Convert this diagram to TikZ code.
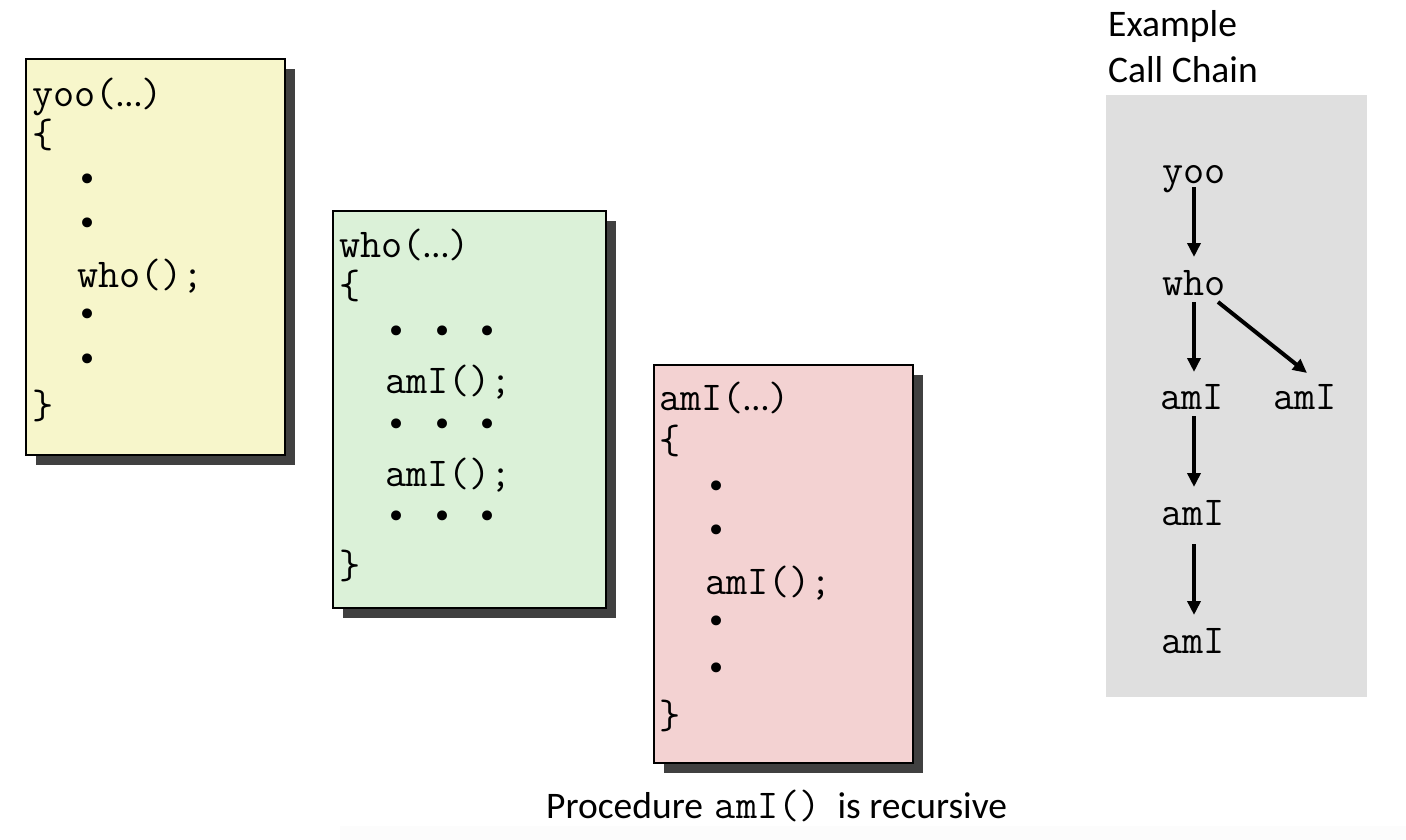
\documentclass[tikz,border=0pt]{standalone}
\usepackage{fontspec}
\setsansfont{Carlito}
\newfontfamily\dotfont{DejaVu Sans}
\usetikzlibrary{arrows.meta,shadows,calc}

\definecolor{yoofill}{RGB}{247,246,203}
\definecolor{whofill}{RGB}{219,241,216}
\definecolor{amifill}{RGB}{243,210,210}
\definecolor{chainfill}{RGB}{223,223,223}
\definecolor{shadowgray}{RGB}{64,64,64}
\definecolor{bandgray}{RGB}{252,252,252}

\newcommand\cfont{\ttfamily\fontsize{41}{45}\selectfont}
\newcommand\sfnt{\sffamily\fontsize{37.5}{46}\selectfont}
\newcommand\ellip{{\sffamily\fontsize{36}{40}\selectfont …}}

\tikzset{
  frame/.style={draw=black, line width=2pt, anchor=north west, inner sep=0pt,
    drop shadow={shadow xshift=10pt, shadow yshift=-10pt, fill=shadowgray, opacity=1}},
  codeln/.style={anchor=base west, inner sep=0pt, font=\cfont},
  bul/.style={anchor=center, inner sep=0pt, font=\dotfont\fontsize{34}{40}\selectfont},
  callnode/.style={anchor=base, inner sep=0pt, font=\cfont},
  label/.style={anchor=base west, inner sep=0pt, font=\sfnt},
  callarrow/.style={line width=4pt, -{Triangle[length=14pt,width=13pt]}},
}

\begin{document}
\begin{tikzpicture}[x=1pt, y=-1pt]
\useasboundingbox (0,0) rectangle (1406,840);
\fill[bandgray] (340,826) rectangle (1406,840);

% caller: yoo
\node[frame, fill=yoofill, minimum width=259pt, minimum height=396pt] (yoobox) at (25,58) {};
\node[codeln] (y1) at (32,107) {yoo(\ellip)};
\node[codeln] (y2) at (32,148) {\{};
\node[bul] (yb1) at (88,183) {•};
\node[bul] (yb2) at (88,227) {•};
\node[codeln] (y3) at (77,287) {who();};
\node[bul] (yb3) at (88,318) {•};
\node[bul] (yb4) at (88,363) {•};
\node[codeln] (y4) at (32,418) {\}};

% callee: who
\node[frame, fill=whofill, minimum width=273pt, minimum height=397pt] (whobox) at (332,210) {};
\node[codeln] (w1) at (339,257) {who(\ellip)};
\node[codeln] (w2) at (339,298) {\{};
\foreach \x [count=\i] in {397,443,488} {
  \node[bul] (wa\i) at (\x,335) {•};
  \node[bul] (wb\i) at (\x,428) {•};
  \node[bul] (wc\i) at (\x,520) {•};
}
\node[codeln] (w3) at (385,393) {amI();};
\node[codeln] (w4) at (385,486) {amI();};
\node[codeln] (w5) at (339,578) {\}};

% recursive procedure: amI
\node[frame, fill=amifill, minimum width=259pt, minimum height=398pt] (amibox) at (653,364) {};
\node[codeln] (a1) at (659,410) {amI(\ellip)};
\node[codeln] (a2) at (659,453) {\{};
\node[bul] (ab1) at (717,490) {•};
\node[bul] (ab2) at (717,534) {•};
\node[codeln] (a3) at (705,594) {amI();};
\node[bul] (ab3) at (717,625) {•};
\node[bul] (ab4) at (717,672) {•};
\node[codeln] (a4) at (659,728) {\}};

% example call chain
\node[label] (ex1) at (1108,37) {Example};
\node[label] (ex2) at (1108,83) {Call Chain};
\node[fill=chainfill, anchor=north west, inner sep=0pt, minimum width=261pt, minimum height=602pt] (chain) at (1106,95) {};
\node[callnode] (cyoo) at (1194,183) {yoo};
\node[callnode] (cwho) at (1194,295) {who};
\node[callnode] (cami1) at (1192,409) {amI};
\node[callnode] (cami2) at (1305,409) {amI};
\node[callnode] (cami3) at (1193,525) {amI};
\node[callnode] (cami4) at (1193,653) {amI};
\draw[callarrow] ($(cyoo.base)+(0,4)$) -- ($(cwho.base)+(0,-38)$);
\draw[callarrow] ($(cwho.base)+(0,7)$) -- ($(cami1.base)+(2,-37)$);
\draw[callarrow] ($(cwho.base)+(24,7)$) -- ($(cami2.base)+(2,-36)$);
\draw[callarrow] ($(cami1.base)+(2,7)$) -- ($(cami3.base)+(1,-38)$);
\draw[callarrow] ($(cami3.base)+(1,19)$) -- ($(cami4.base)+(1,-38)$);

% caption
\node[label] (cap) at (546,818) {Procedure\hspace{12pt}{\cfont amI()}\hspace{17pt}is recursive};
\end{tikzpicture}
\end{document}
